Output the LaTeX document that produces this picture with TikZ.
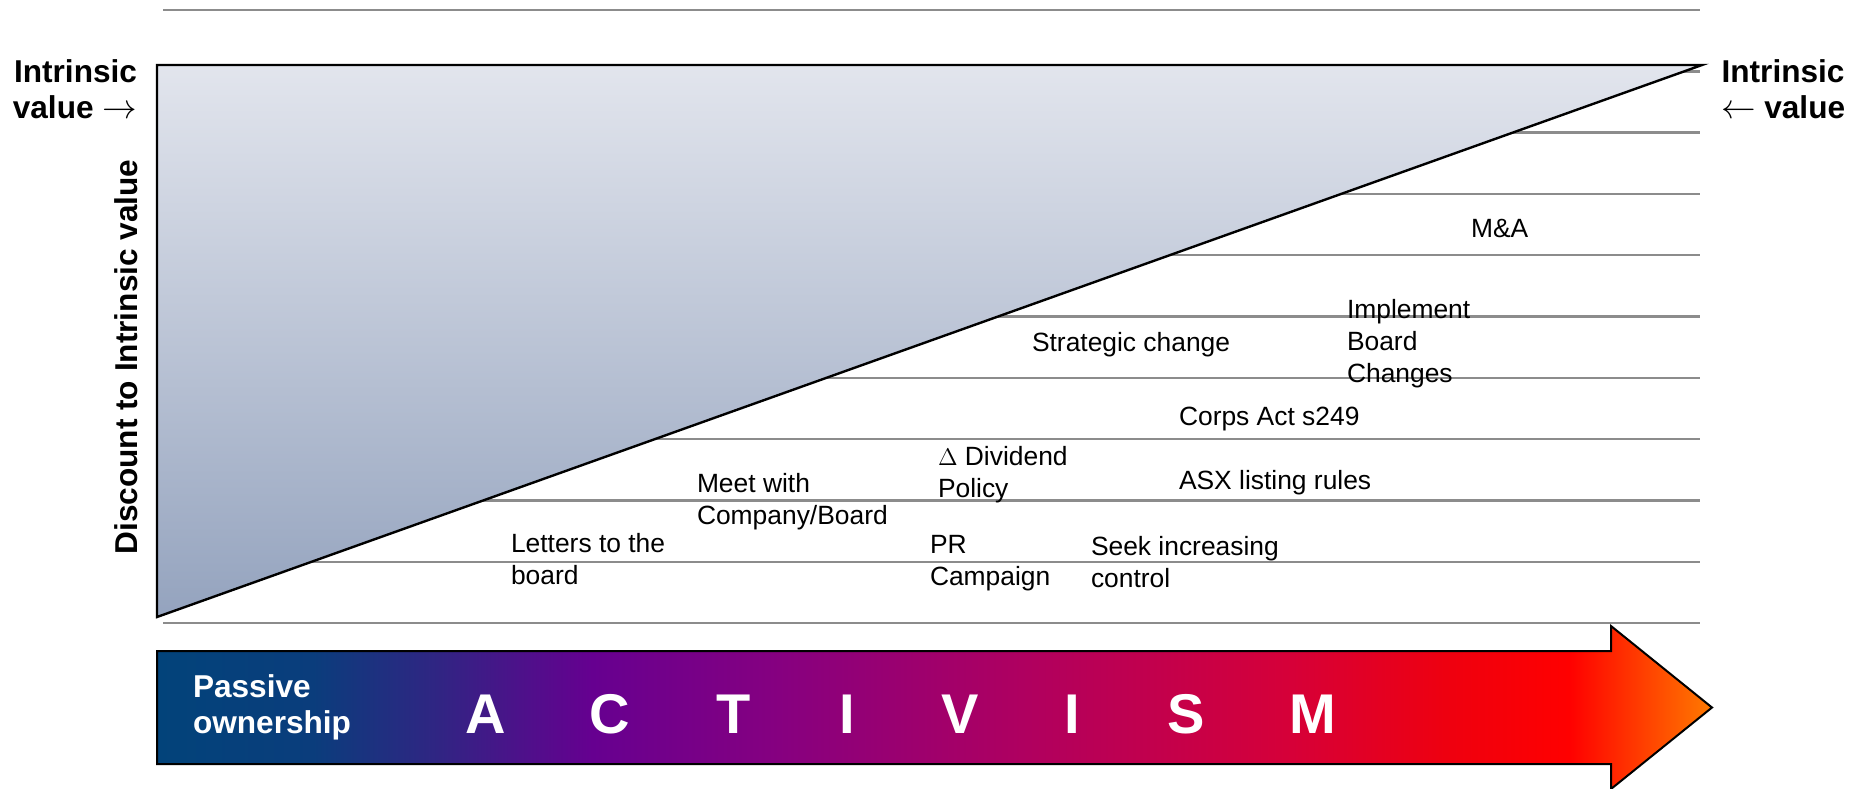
\documentclass[tikz,border=0pt]{standalone}
\usepackage{fontspec}
\setmainfont{Liberation Sans}
\usetikzlibrary{calc}

\newcommand{\rowGap}{61.3}
\newcommand{\gridTop}{10}
\newcommand{\gridLeft}{163}
\newcommand{\gridRight}{1700}
\newcommand{\itemFont}{\fontsize{13.2pt}{15.8pt}\selectfont}
\newcommand{\sideFont}{\fontsize{15.8pt}{18pt}\selectfont\bfseries}
\newcommand{\letterFont}{\fontsize{28pt}{30pt}\selectfont\bfseries}
\newcommand{\sideArrow}[1]{{\fontsize{18.6pt}{18pt}\selectfont$#1$}}

\definecolor{gridGray}{RGB}{140,140,140}
\definecolor{triTop}{RGB}{226,229,237}
\definecolor{triBottom}{RGB}{148,163,190}
\definecolor{actA}{RGB}{2,67,122}
\definecolor{actB}{RGB}{10,61,124}
\definecolor{actC}{RGB}{48,37,131}
\definecolor{actD}{RGB}{102,0,144}
\definecolor{actE}{RGB}{134,0,128}
\definecolor{actF}{RGB}{176,0,95}
\definecolor{actG}{RGB}{214,0,56}
\definecolor{actH}{RGB}{238,0,16}
\definecolor{actI}{RGB}{255,0,0}
\definecolor{actJ}{RGB}{255,122,0}

\pgfdeclarehorizontalshading{activism}{100bp}{color(0bp)=(actA); color(25bp)=(actA);
  color(30bp)=(actB); color(34bp)=(actC); color(39bp)=(actD); color(45bp)=(actE);
  color(53bp)=(actF); color(61.5bp)=(actG); color(66.4bp)=(actH); color(70.4bp)=(actI);
  color(75bp)=(actJ); color(100bp)=(actJ)}

\tikzstyle{gridLine}=[draw=gridGray, line width=1.2pt]
\tikzstyle{wedge}=[draw=black, line width=1.2pt, top color=triTop, bottom color=triBottom]
\tikzstyle{band}=[shade, shading=activism, draw=black, line width=1pt]
\tikzstyle{txt}=[inner sep=0, outer sep=0]
% multi-line nodes sit on the baseline of their last line
\tikzstyle{item}=[txt, anchor=base west, align=left, font=\itemFont]
\tikzstyle{sideLabel}=[txt, font=\sideFont]
\tikzstyle{letter}=[txt, anchor=base, text=white, font=\letterFont]

\begin{document}
\begin{tikzpicture}[x=0.5pt, y=-0.5pt]

% Frame
\useasboundingbox (0,0) rectangle (1864,788);

% Grid lines
\foreach \k in {0,...,10} {
  \draw[gridLine] (\gridLeft, {\gridTop+\k*\rowGap}) -- (\gridRight, {\gridTop+\k*\rowGap});
  }

% Discount wedge
\coordinate (triTopLeft) at (157,65);
\coordinate (triBottomLeft) at (157,617);
\coordinate (triTip) at (1702,65);
\draw[wedge] (triTopLeft) -- (triTip) -- (triBottomLeft) -- cycle;

% Side labels
\node[sideLabel, align=right, anchor=base east] (leftValue) at (137,118) {Intrinsic\\value \sideArrow{\rightarrow}};
\node[sideLabel, align=center, anchor=base west] (rightValue) at (1721,118) {Intrinsic\\\sideArrow{\leftarrow} value};
\node[sideLabel, rotate=90] (discount) at (126,357) {Discount to Intrinsic value};

% Actions
\node[item] (mna) at (1471,237) {M\&A};
\node[item] (implement) at (1347,382) {Implement\\Board\\Changes};
\node[item] (strategic) at (1032,351) {Strategic change};
\node[item] (corps) at (1179,425) {Corps Act s249};
\node[item] (dividend) at (938,497) {$\Delta$ Dividend\\Policy};
\node[item] (asx) at (1179,489) {ASX listing rules};
\node[item] (meet) at (697,524) {Meet with\\Company/Board};
\node[item] (letters) at (511,584) {Letters to the\\board};
\node[item] (pr) at (930,585) {PR\\Campaign};
\node[item] (seek) at (1091,587) {Seek increasing\\control};

% Activism arrow
\path[band] (157,651) -- (1611,651) -- (1611,626) -- (1712,707.5)
  -- (1611,789) -- (1611,764) -- (157,764) -- cycle;
\node[txt, anchor=base west, align=left, text=white, font=\sideFont] (passive) at (193,733) {Passive\\ownership};
\foreach \ch/\xx [count=\i] in {A/486, C/610, T/734, I/847, V/960, I/1072, S/1186, M/1313} {
  \node[letter] (act\i) at (\xx,733) {\ch};
  }

\end{tikzpicture}
\end{document}
